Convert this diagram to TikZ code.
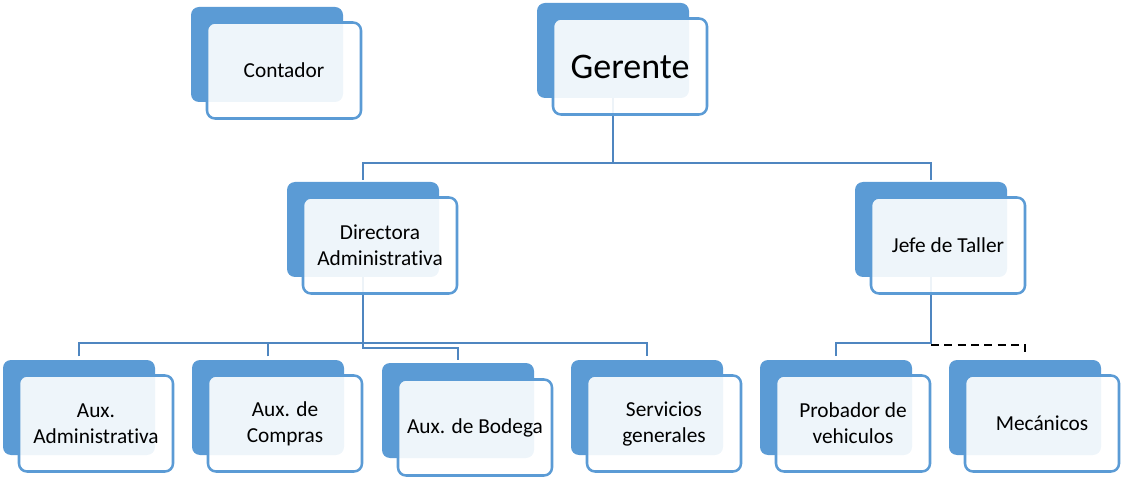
\documentclass[tikz,border=0pt]{standalone}
\usepackage{fontspec}
\setmainfont[Ligatures={NoCommon}]{Carlito}
\usetikzlibrary{calc}
\definecolor{boxblue}{HTML}{5B9BD5}
\definecolor{linkblue}{HTML}{4F86C0}
\begin{document}
\begin{tikzpicture}[x=0.75pt,y=-0.75pt,
  back/.style={fill=boxblue, rounded corners=6pt, minimum width=114pt, minimum height=71.25pt, inner sep=0pt},
  front/.style={draw=boxblue, line width=1.9pt, fill=white, fill opacity=0.9, text opacity=1, rounded corners=6pt,
    minimum width=115.5pt, minimum height=72pt, inner sep=0pt, align=center,
    font=\fontsize{16}{19.5}\selectfont, text=black},
  big/.style={font=\fontsize{27}{32}\selectfont},
  conn/.style={draw=linkblue, line width=1.6pt},
  dconn/.style={draw=black, line width=1.9pt, dash pattern=on 6pt off 4pt}]
\useasboundingbox (0,0) rectangle (1121,477);
% back boxes
\node[back] (cB) at (267,54.5) {};
\node[back] (gB) at (613,50.5) {};
\node[back] (dB) at (363,229.5) {};
\node[back] (jB) at (931,229.5) {};
\node[back] (a1B) at (79,407.5) {};
\node[back] (a2B) at (268,407.5) {};
\node[back] (bB) at (458,410.5) {};
\node[back] (sB) at (647,407.5) {};
\node[back] (pB) at (836,407.5) {};
\node[back] (mB) at (1025,407.5) {};
% bus levels
\coordinate (bus1) at (0,163);
\coordinate (bus2) at (0,343);
\coordinate (bus2b) at (0,348);
\coordinate (bus3) at (0,343);
\coordinate (bus3d) at (0,345);
% connectors
\draw[conn] (gB.south) -- (gB.south |- bus1) -| ([yshift=1.5pt]dB.north);
\draw[conn] (gB.south |- bus1) -| ([yshift=1.5pt]jB.north);
\draw[conn] (dB.south) -- (dB.south |- bus2b) -| ([yshift=2pt]bB.north);
\draw[conn] ([yshift=2.5pt]a1B.north) -- (a1B.north |- bus2) -| ([yshift=2.5pt]sB.north);
\draw[conn] ([yshift=2.5pt]a2B.north) -- (a2B.north |- bus2);
\draw[conn] (jB.south) -- (jB.south |- bus3) -| ([yshift=2.5pt]pB.north);
\draw[dconn] (jB.south |- bus3d) -| ([yshift=3pt]mB.north);
% front boxes
\node[front] (cF) at (284,70.5) {Contador};
\node[front, big] (gF) at (630,66.5) {Gerente};
\node[front] (dF) at (380,245.5) {Directora\\Administrativa};
\node[front] (jF) at (948,245.5) {Jefe de Taller};
\node[front] (a1F) at (96,423.5) {Aux.\\Administrativa};
\node[front] (a2F) at (285,423.5) {Aux. de\\Compras};
\node[front] (bF) at (475,427.5) {Aux. de Bodega};
\node[front] (sF) at (664,423.5) {Servicios\\generales};
\node[front] (pF) at (853,423.5) {Probador de\\vehiculos};
\node[front] (mF) at (1042,423.5) {Mecánicos};
\end{tikzpicture}
\end{document}
